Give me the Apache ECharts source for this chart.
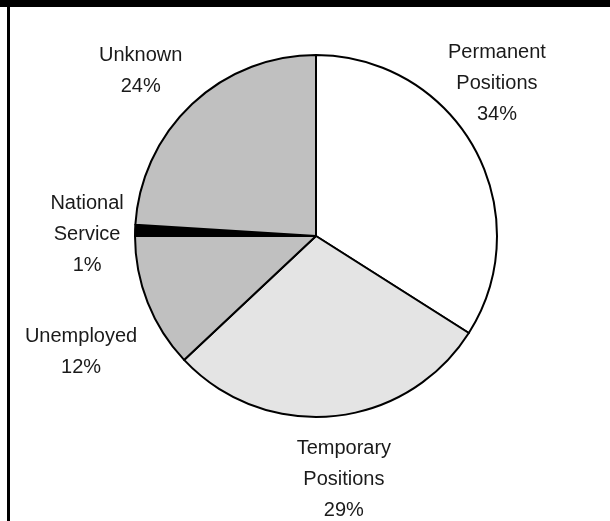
<!DOCTYPE html>
<html>
<head>
<meta charset="utf-8">
<script src="https://cdn.jsdelivr.net/npm/echarts@6/dist/echarts.min.js"></script>
<style>html,body{margin:0;padding:0;background:#fff}#c{width:610px;height:521px}</style>
</head>
<body>
<div id="c"></div>
<script>
const categories = ['Permanent\nPositions', 'Temporary\nPositions', 'Unemployed', 'National\nService', 'Unknown'];
const values = [34, 29, 12, 1, 24];
const colors = ['#ffffff', '#e4e4e4', '#c0c0c0', '#000000', '#c0c0c0'];
const labelOffsets = [[-32, -35], [5, 2], [-9, 27], [14, 6], [-9, 12]];

const FONT = '"Liberation Sans Narrow", "Arial Narrow", "Liberation Sans", Arial, sans-serif';
const chart = echarts.init(document.getElementById('c'), null, {renderer: 'canvas'});
const center = [316, 236];

chart.setOption({
  animation: false,
  backgroundColor: '#ffffff',
  graphic: [
    {type: 'rect', shape: {x: 0, y: 0, width: 610, height: 7}, style: {fill: '#000'}, z: 100},
    {type: 'rect', shape: {x: 7, y: 0, width: 3, height: 521}, style: {fill: '#000'}, z: 100}
  ],
  series: [
    {
      type: 'pie',
      center: center,
      radius: [0, 181],
      startAngle: 90,
      clockwise: true,
      silent: true,
      avoidLabelOverlap: false,
      label: {show: false},
      labelLine: {show: false},
      emphasis: {disabled: true},
      itemStyle: {borderColor: '#000', borderWidth: 2},
      data: categories.map((n, i) => ({name: n, value: values[i], itemStyle: {color: colors[i]}}))
    },
    {
      type: 'pie',
      center: center,
      radius: [230, 250],
      startAngle: 90,
      clockwise: true,
      silent: true,
      avoidLabelOverlap: false,
      emphasis: {disabled: true},
      itemStyle: {color: 'rgba(0,0,0,0)', borderWidth: 0},
      labelLine: {show: false},
      label: {
        show: true,
        position: 'inside',
        formatter: p => p.name + '\n' + p.value + '%',
        color: '#1a1a1a',
        fontFamily: FONT,
        fontSize: 20,
        lineHeight: 31,
        align: 'center'
      },
      data: categories.map((n, i) => ({name: n, value: values[i], label: {offset: labelOffsets[i]}}))
    }
  ]
});
</script>
</body>
</html>
